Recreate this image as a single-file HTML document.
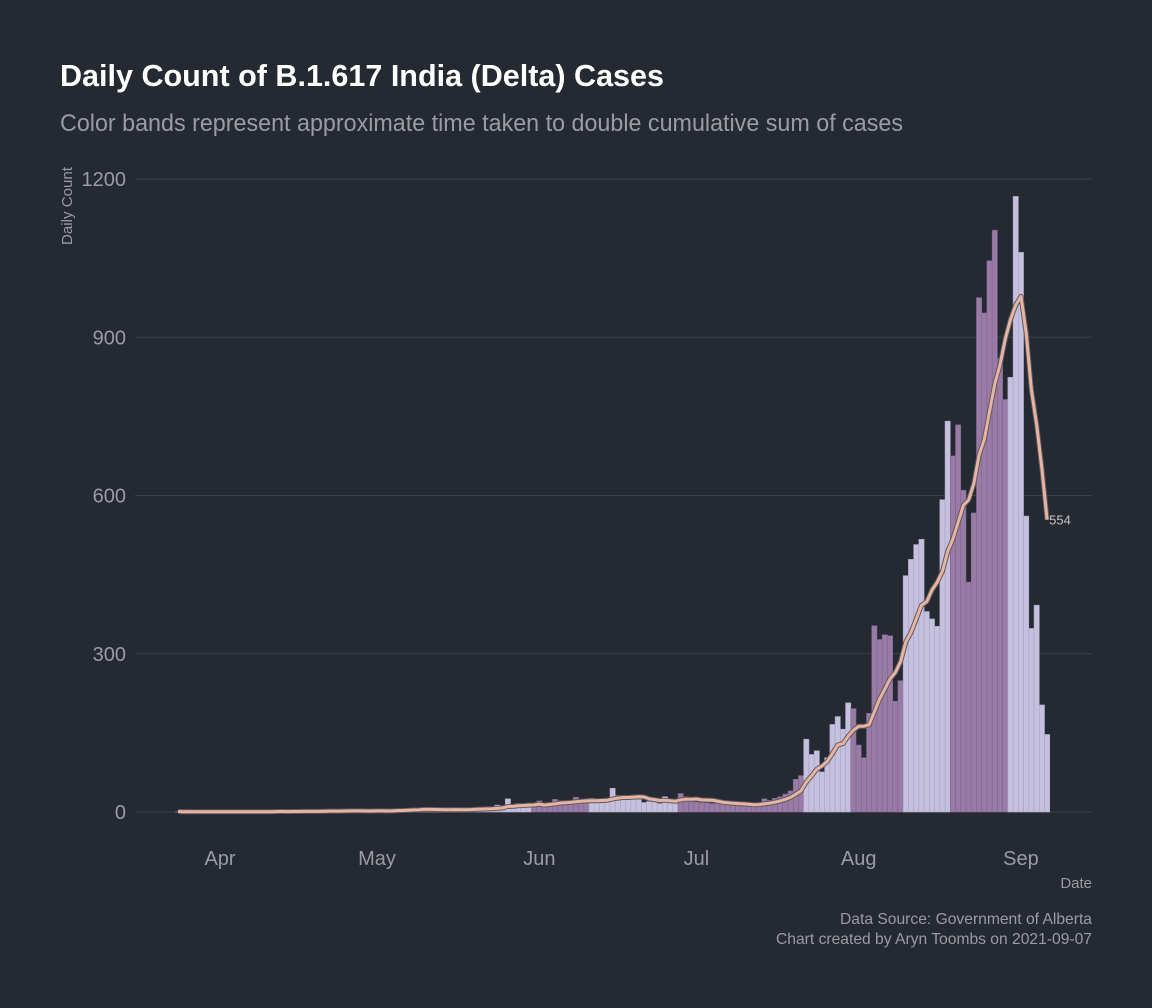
<!DOCTYPE html>
<html><head><meta charset="utf-8"><style>
body{margin:0;background:#252932;}
svg{display:block;font-family:"Liberation Sans Narrow","Liberation Sans",sans-serif;}
</style></head><body>
<svg id="chart" width="1152" height="1008" viewBox="0 0 1152 1008">
<rect width="1152" height="1008" fill="#252932"/>
<text x="60" y="86" fill="#ffffff" font-size="31" font-weight="bold" textLength="604" lengthAdjust="spacingAndGlyphs">Daily Count of B.1.617 India (Delta) Cases</text>
<text x="60" y="131" fill="#9a9ca3" font-size="24" textLength="843" lengthAdjust="spacingAndGlyphs">Color bands represent approximate time taken to double cumulative sum of cases</text>
<g id="grid"></g>
<g id="yticks"></g>
<g id="xticks"></g>
<g id="bars"></g>
<g id="line"></g>
<text transform="translate(72,245) rotate(-90)" fill="#9a9ca3" font-size="15" textLength="78" lengthAdjust="spacingAndGlyphs">Daily Count</text>
<text x="1092" y="888" text-anchor="end" fill="#9a9ca3" font-size="15">Date</text>
<text x="1092" y="924" text-anchor="end" fill="#9a9ca3" font-size="16" textLength="252" lengthAdjust="spacingAndGlyphs">Data Source: Government of Alberta</text>
<text x="1092" y="944" text-anchor="end" fill="#9a9ca3" font-size="16" textLength="316" lengthAdjust="spacingAndGlyphs">Chart created by Aryn Toombs on 2021-09-07</text>
</svg>
<script>
// day index 0 = Apr 1 2021; first value is day -8 (Mar 24)
const startDay = -8;
const dailyCounts = [1,0,1,0,1,0,0,1,
0,1,0,1,0,1,1,0,1,0,1,2,1,0,1,2,1,1,2,1,2,3,2,1,2,3,2,2,1,2,
3,2,1,4,5,3,6,5,4,7,5,3,2,4,6,5,4,6,5,7,6,
8,6,13,9,25,7,16,10,12,
14,21,12,15,24,21,17,18,28,19,20,
26,22,20,21,45,31,28,26,27,24,18,20,22,16,29,20,
18,35,29,22,19,18,17,16,23,15,14,13,14,12,13,14,18,25,22,26,29,34,40,62,
69,138,109,116,76,103,166,181,157,207,196,127,103,187,353,327,336,334,210,249,
448,479,507,517,380,366,352,592,741,
675,734,610,436,567,975,946,1045,1103,860,782,
824,1167,1061,561,348,392,203,147];
// band boundaries (day index where band starts) and band type: 1 = purple, 0 = light
const bandStarts = [-8, 21, 60, 71, 88, 112, 121, 131, 140, 151];
const bandTypes  = [1, 0, 1, 0, 1, 0, 1, 0, 1, 0];
const yTicks = [0, 300, 600, 900, 1200];
const xTickLabels = ["Apr","May","Jun","Jul","Aug","Sep"];
const xTickDays = [0, 30, 61, 91, 122, 153];

const NS = "http://www.w3.org/2000/svg";
const X0 = 220, DX = 5.235, Y0 = 812, PPU = 633/1200;
const xs = d => X0 + d*DX;
const ys = v => Y0 - v*PPU;
function mk(tag, attrs, parent){const e=document.createElementNS(NS,tag);for(const k in attrs)e.setAttribute(k,attrs[k]);parent.appendChild(e);return e;}

const grid=document.getElementById('grid'), yt=document.getElementById('yticks'), xt=document.getElementById('xticks');
yTicks.forEach(v=>{
  const l=mk('line',{x1:135,x2:1092,y1:ys(v),y2:ys(v),stroke:'#3c4048','stroke-width':1},grid);
  
  
  const t=mk('text',{x:126,y:ys(v)+7,'text-anchor':'end',fill:'#9a9ca3','font-size':20},yt);
  t.textContent=v;
  
  
});
xTickLabels.forEach((s,i)=>{
  const t=mk('text',{x:xs(xTickDays[i]),y:865,'text-anchor':'middle',fill:'#9a9ca3','font-size':20},xt);
  t.textContent=s;
  
  
});
function bandOf(d){let b=0;for(let i=0;i<bandStarts.length;i++)if(d>=bandStarts[i])b=bandTypes[i];return b;}
const bars=document.getElementById('bars');
dailyCounts.forEach((v,i)=>{
  const d=startDay+i, p=bandOf(d);
  const r=mk('rect',{x:xs(d)-DX/2,y:ys(v),width:DX,height:Math.max(0,v*PPU),fill:p?'#9a7ba6':'#c4c0dd',stroke:p?'#7e6690':'#a9a4c6','stroke-width':0.6},bars);
  
  
});
// trailing 7-day average
const avg=dailyCounts.map((v,i)=>{const s=dailyCounts.slice(Math.max(0,i-6),i+1);return s.reduce((a,b)=>a+b,0)/s.length;});
const pts=avg.map((v,i)=>xs(startDay+i).toFixed(1)+','+ys(v).toFixed(1)).join(' ');
const ln=document.getElementById('line');
const o=mk('polyline',{points:pts,fill:'none',stroke:'#5d5a60','stroke-width':5,'stroke-linejoin':'round'},ln);


const m=mk('polyline',{points:pts,fill:'none',stroke:'#e8b4a2','stroke-width':3,'stroke-linejoin':'round'},ln);


const last=avg[avg.length-1];
const lt=mk('text',{x:xs(startDay+avg.length-1)+2,y:ys(last)+5,fill:'#c9c2c8','font-size':13},ln);
lt.textContent=Math.round(last);


</script>
</body></html>
